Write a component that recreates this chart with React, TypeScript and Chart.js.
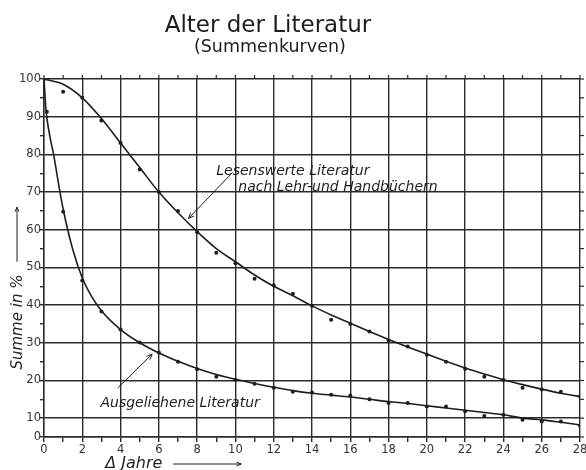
import React, { useEffect, useRef } from "react";
import { Chart, registerables, LinearScale } from "chart.js";

// ---------- data ----------
const titleText = "Alter der Literatur";
const subtitleText = "(Summenkurven)";
const yAxisTitle = "Summe in %";
const xAxisTitle = "Δ Jahre";
const labelUpper1 = "Lesenswerte Literatur";
const labelUpper2 = "nach Lehr-und Handbüchern";
const labelLower = "Ausgeliehene Literatur";

const xTickValues = Array.from({ length: 29 }, (_, i) => i);
const yTickValues = [0, 10, 15, 20, 25, 30, 35, 40, 45, 50, 55, 60, 65, 70, 75, 80, 85, 90, 95, 100];

const upperCurveX = [0, 1, 2, 3, 4, 5, 6, 7, 8, 9, 10, 11, 12, 13, 14, 15, 16, 17, 18, 19, 20, 21, 22, 23, 24, 25, 26, 27, 28];
const upperCurve = [100, 98.6, 95, 89.5, 83, 76.5, 70, 64.5, 59.5, 55, 51.5, 48, 45, 42.5, 39.8, 37.4, 35.2, 33, 30.9, 28.9, 27, 25.1, 23.3, 21.7, 20.2, 18.9, 17.7, 16.6, 15.7];

const upperDotsX = [0, 1, 2, 3, 4, 5, 6, 7, 8, 9, 10, 11, 12, 13, 14, 15, 16, 17, 18, 19, 20, 21, 22, 23, 24, 25, 26, 27, 28];
const upperDots = [100, 96.6, 95, 89, 83, 76, 70, 65, 59.3, 53.9, 51.1, 47, 45.3, 43, 39.8, 36.1, 35, 33, 30.6, 29, 26.8, 25, 23.1, 21, 20.1, 18.1, 17.6, 17, 15.8];

const lowerCurveX = [0, 0.1, 0.3, 0.5, 0.75, 1, 1.5, 2, 2.5, 3, 4, 5, 6, 7, 8, 9, 10, 11, 12, 13, 14, 15, 16, 17, 18, 19, 20, 21, 22, 23, 24, 25, 26, 27, 28];
const lowerCurve = [100, 92, 85, 80, 72.5, 65.5, 54.8, 47.2, 42.2, 38.5, 33.5, 30, 27.3, 25.1, 23.2, 21.6, 20.3, 19.2, 18.2, 17.3, 16.6, 16.1, 15.6, 15.0, 14.4, 13.9, 13.3, 12.7, 12.1, 11.5, 10.9, 10.0, 9.1, 7.8, 6.4];

const lowerDotsX = [0.15, 1, 2, 3, 4, 5, 6, 7, 8, 9, 10, 11, 12, 13, 14, 15, 16, 17, 18, 19, 20, 21, 22, 23, 24, 25, 26, 27, 28];
const lowerDots = [91.3, 64.8, 46.5, 38.3, 33.5, 30.1, 27.4, 25, 23, 21, 20.2, 19.1, 18.1, 17, 16.8, 16.2, 16.0, 15.0, 14.0, 14.0, 13.1, 13.1, 11.8, 10.6, 10.9, 9.1, 8.2, 8.2, 6.0];

// ---------- scale with compressed 0–10 band (as in the original drawing) ----------
class BrokenLinearScale extends LinearScale {
  getPixelForValue(value: number) {
    const t = value < 10 ? 5 + value / 2 : value;
    return this.getPixelForDecimal((t - 5) / 95);
  }
  getValueForPixel(pixel: number) {
    const t = 5 + 95 * this.getDecimalForPixel(pixel);
    return t < 10 ? (t - 5) * 2 : t;
  }
}
(BrokenLinearScale as any).id = "brokenLinear";
(BrokenLinearScale as any).defaults = (LinearScale as any).defaults;

Chart.register(...registerables, BrokenLinearScale as any);

const INK = "#1e1e1e";
const GRID = "#2b2b2b";
const FONT = "'DejaVu Sans', sans-serif";

function arrow(ctx: CanvasRenderingContext2D, x1: number, y1: number, x2: number, y2: number, head = 6) {
  ctx.beginPath();
  ctx.moveTo(x1, y1);
  ctx.lineTo(x2, y2);
  ctx.stroke();
  const a = Math.atan2(y2 - y1, x2 - x1);
  ctx.beginPath();
  ctx.moveTo(x2 - head * Math.cos(a - 0.4), y2 - head * Math.sin(a - 0.4));
  ctx.lineTo(x2, y2);
  ctx.lineTo(x2 - head * Math.cos(a + 0.4), y2 - head * Math.sin(a + 0.4));
  ctx.stroke();
}

const decor = {
  id: "decor",
  beforeDraw(chart: any) {
    const { ctx, width, height } = chart;
    ctx.save();
    ctx.fillStyle = "#ffffff";
    ctx.fillRect(0, 0, width, height);
    ctx.restore();
  },
  afterDraw(chart: any) {
    const { ctx, chartArea } = chart;
    const x = chart.scales.x;
    const y = chart.scales.y;
    ctx.save();
    ctx.fillStyle = INK;
    ctx.strokeStyle = INK;

    // titles
    ctx.textAlign = "center";
    ctx.textBaseline = "alphabetic";
    ctx.font = `23px ${FONT}`;
    ctx.fillText(titleText, x.getPixelForValue(11.7), 32);
    ctx.font = `17.5px ${FONT}`;
    ctx.fillText(subtitleText, x.getPixelForValue(11.8), 52);

    // top and right small ticks
    ctx.lineWidth = 1.2;
    ctx.strokeStyle = GRID;
    for (const v of xTickValues) {
      const px = x.getPixelForValue(v);
      ctx.beginPath();
      ctx.moveTo(px, chartArea.top);
      ctx.lineTo(px, chartArea.top - 4);
      ctx.stroke();
    }
    for (const v of yTickValues) {
      const py = y.getPixelForValue(v);
      ctx.beginPath();
      ctx.moveTo(chartArea.right, py);
      ctx.lineTo(chartArea.right + 4, py);
      ctx.stroke();
    }

    // annotations
    ctx.strokeStyle = INK;
    ctx.lineWidth = 1;
    ctx.textAlign = "left";
    ctx.font = `italic 14px ${FONT}`;
    ctx.fillText(labelUpper1, x.getPixelForValue(9.0), y.getPixelForValue(74.4));
    ctx.fillText(labelUpper2, x.getPixelForValue(10.15), y.getPixelForValue(70.3));
    arrow(ctx, x.getPixelForValue(9.85), y.getPixelForValue(75.2), x.getPixelForValue(7.55), y.getPixelForValue(63.0));

    ctx.fillText(labelLower, x.getPixelForValue(2.95), y.getPixelForValue(12.9));
    arrow(ctx, x.getPixelForValue(3.85), y.getPixelForValue(18.0), x.getPixelForValue(5.65), y.getPixelForValue(27.0));

    // axis titles
    ctx.font = `italic 15px ${FONT}`;
    ctx.save();
    ctx.translate(22, y.getPixelForValue(35.5));
    ctx.rotate(-Math.PI / 2);
    ctx.textAlign = "center";
    ctx.fillText(yAxisTitle, 0, 0);
    ctx.restore();
    arrow(ctx, 17, y.getPixelForValue(51.5), 17, y.getPixelForValue(66), 5);

    ctx.font = `italic 16px ${FONT}`;
    ctx.textAlign = "left";
    ctx.fillText(xAxisTitle, x.getPixelForValue(3.2), 468);
    arrow(ctx, x.getPixelForValue(6.75), 464, x.getPixelForValue(10.3), 464, 5);

    ctx.restore();
  },
};

export default function App() {
  const ref = useRef<HTMLCanvasElement | null>(null);
  useEffect(() => {
    document.body.style.margin = "0";
    document.body.style.overflow = "hidden";
    const canvas = ref.current!;
    const toXY = (xs: number[], ys: number[]) => xs.map((v, i) => ({ x: v, y: ys[i] }));
    const chart = new Chart(canvas, {
      type: "line",
      data: {
        datasets: [
          {
            data: toXY(upperCurveX, upperCurve),
            borderColor: INK,
            borderWidth: 1.6,
            pointRadius: 0,
            cubicInterpolationMode: "monotone",
            fill: false,
          },
          {
            data: toXY(upperDotsX, upperDots),
            showLine: false,
            pointRadius: 2,
            pointBackgroundColor: INK,
            pointBorderWidth: 0,
          },
          {
            data: toXY(lowerCurveX, lowerCurve),
            borderColor: INK,
            borderWidth: 1.6,
            pointRadius: 0,
            cubicInterpolationMode: "monotone",
            fill: false,
          },
          {
            data: toXY(lowerDotsX, lowerDots),
            showLine: false,
            pointRadius: 2,
            pointBackgroundColor: INK,
            pointBorderWidth: 0,
          },
        ] as any,
      },
      options: {
        animation: false,
        responsive: false,
        events: [],
        layout: { padding: { left: 0, right: 6, top: 79, bottom: 0 } },
        plugins: { legend: { display: false }, tooltip: { enabled: false }, title: { display: false } },
        scales: {
          x: {
            type: "linear",
            min: 0,
            max: 28,
            afterBuildTicks: (s: any) => {
              s.ticks = xTickValues.map((v) => ({ value: v }));
            },
            afterFit: (s: any) => {
              s.height = 33;
              s.paddingLeft = 0;
              s.paddingRight = 0;
            },
            ticks: {
              autoSkip: false,
              maxRotation: 0,
              padding: 1,
              color: "#333",
              font: { size: 11.5, family: FONT },
              callback: (v: any) => (Number(v) % 2 === 0 ? String(v) : ""),
            },
            grid: {
              color: (c: any) => (c.tick && c.tick.value % 2 === 0 ? GRID : "rgba(0,0,0,0)"),
              tickColor: GRID,
              tickLength: 5,
              lineWidth: 1.4,
            },
            border: { color: GRID, width: 1.4 },
          },
          y: {
            type: "brokenLinear" as any,
            min: 0,
            max: 100,
            afterBuildTicks: (s: any) => {
              s.ticks = yTickValues.map((v) => ({ value: v }));
            },
            afterFit: (s: any) => {
              s.width = 44;
              s.paddingTop = 0;
              s.paddingBottom = 0;
            },
            ticks: {
              autoSkip: false,
              padding: -1,
              color: "#333",
              font: { size: 11.5, family: FONT },
              callback: (v: any) => (Number(v) % 10 === 0 ? String(v) : ""),
            },
            grid: {
              color: (c: any) => (c.tick && c.tick.value % 10 === 0 ? GRID : "rgba(0,0,0,0)"),
              tickColor: GRID,
              tickLength: 4,
              lineWidth: 1.4,
            },
            border: { color: GRID, width: 1.4 },
          } as any,
        },
      },
      plugins: [decor],
    });
    return () => chart.destroy();
  }, []);
  return <canvas ref={ref} width={586} height={470} style={{ display: "block" }} />;
}
